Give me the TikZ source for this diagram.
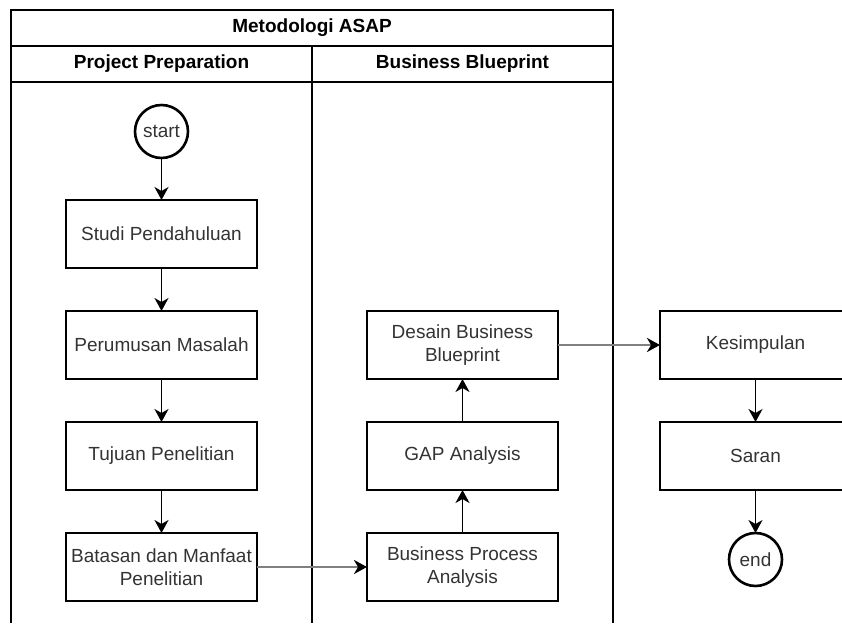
\documentclass[tikz,border=0pt]{standalone}
\usepackage{fontspec}
\setmainfont{Liberation Sans}
\usetikzlibrary{arrows.meta,positioning}

\begin{document}
\begin{tikzpicture}[x=1pt,y=-1pt,
  font=\fontsize{19}{23}\selectfont,
  node distance=43pt,
  proc/.style={draw,line width=1.6pt,minimum width=191pt,minimum height=68pt,
    align=center,inner sep=0pt,outer sep=0pt,text=black!80},
  term/.style={circle,draw,line width=2.6pt,minimum size=53pt,inner sep=0pt,
    outer sep=0pt,text=black!80},
  flow/.style={-{Stealth[length=13pt,width=14pt,inset=4pt]},line width=1.6pt},
  cross/.style={-{Stealth[length=13pt,width=14pt,inset=4pt,color=black]},
    draw=black!50,line width=2.4pt},
  lane/.style={line width=1.6pt},
  title/.style={font=\fontsize{19}{23}\selectfont\bfseries}]
%
\def\lx{11};
\def\mx{312};
\def\rx{613};
\def\ty{10};
\def\hy{46};
\def\ly{82};
\def\by{623};
%
\clip (0,0) rectangle (842,623);
%
\coordinate (TL) at (\lx,\ty);
\coordinate (TR) at (\rx,\ty);
\coordinate (BL) at (\lx,\by);
\coordinate (BR) at (\rx,\by);
\coordinate (MT) at (\mx,\hy);
\coordinate (MB) at (\mx,\by);
%
% pool and lanes
\draw[lane](BL)--(TL)--(TR)--(BR);
\draw[lane](\lx,\hy)--(\rx,\hy);
\draw[lane](\lx,\ly)--(\rx,\ly);
\draw[lane](MT)--(MB);
%
\node[title] (pool) at (\mx,{(\ty+\hy)/2}) {Metodologi ASAP};
\node[title] (lane1) at ({(\lx+\mx)/2},{(\hy+\ly)/2}) {Project Preparation};
\node[title] (lane2) at ({(\mx+\rx)/2},{(\hy+\ly)/2}) {Business Blueprint};
%
% project preparation
\node[term] (start) at (161.5,131.5) {start};
\node[proc,below=42pt of start] (studi) {Studi Pendahuluan};
\node[proc,below=of studi] (rumus) {Perumusan Masalah};
\node[proc,below=of rumus] (tujuan) {Tujuan Penelitian};
\node[proc,below=of tujuan] (batas) {Batasan dan Manfaat\\Penelitian};
%
% business blueprint
\node[proc,right=110pt of batas] (bpa) {Business Process\\Analysis};
\node[proc,above=of bpa] (gap) {GAP Analysis};
\node[proc,above=of gap] (desain) {Desain Business\\Blueprint};
%
% hasil
\node[proc,right=102pt of desain] (simpul) {Kesimpulan};
\node[proc,below=of simpul] (saran) {Saran};
\node[term,below=43pt of saran] (end) {end};
%
\draw[flow](start)--(studi);
\draw[flow](studi)--(rumus);
\draw[flow](rumus)--(tujuan);
\draw[flow](tujuan)--(batas);
\draw[cross](batas)--(bpa);
\draw[flow](bpa)--(gap);
\draw[flow](gap)--(desain);
\draw[cross](desain)--(simpul);
\draw[flow](simpul)--(saran);
\draw[flow](saran)--(end);
%
\end{tikzpicture}
\end{document}
